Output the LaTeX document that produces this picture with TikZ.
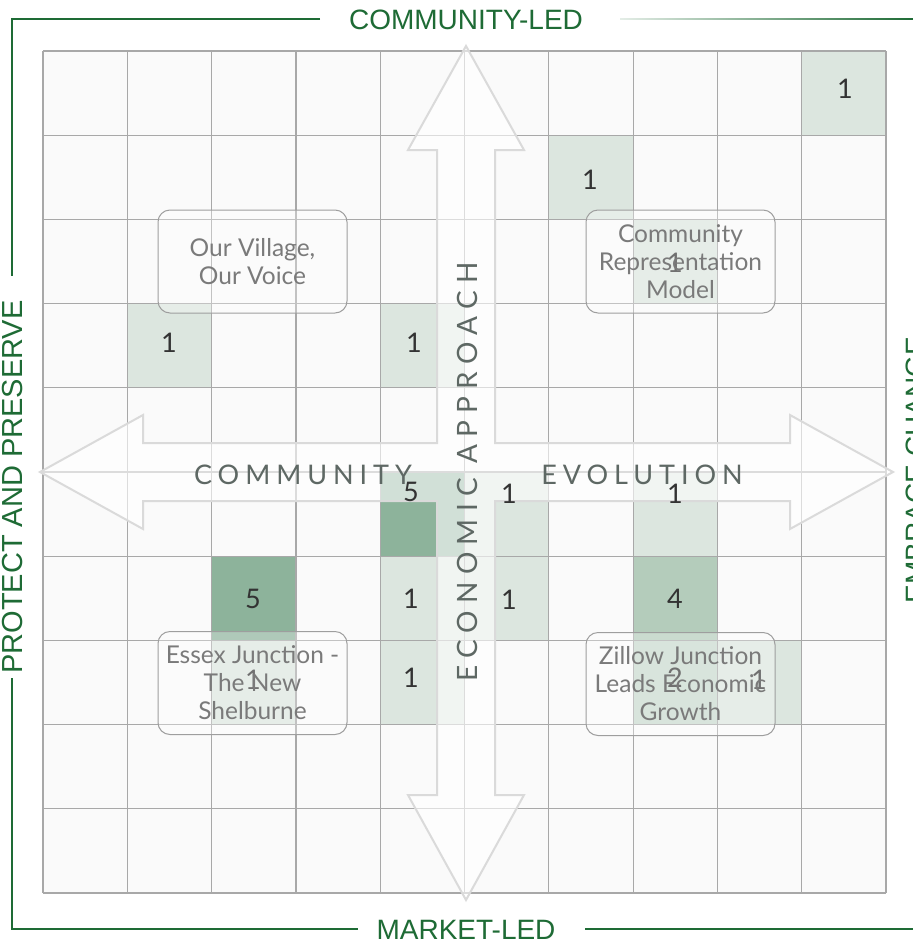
\documentclass[tikz,border=0pt]{standalone}
\usepackage{fontspec}
\setmainfont{Lato}
\newfontfamily\titlefamily{Liberation Sans}
\newfontfamily\spacedfamily[LetterSpace=22]{Lato}
\newfontfamily\widespacedfamily[LetterSpace=26]{Lato}
\definecolor{framec}{HTML}{1E6B35}
\definecolor{cellbg}{HTML}{FAFAFA}
\definecolor{gridc}{HTML}{A8A8A8}
\definecolor{cA}{HTML}{DCE6DF}
\definecolor{cB}{HTML}{C8D9CD}
\definecolor{cD}{HTML}{B4CCBB}
\definecolor{cE}{HTML}{8DB39B}
\definecolor{arrowc}{HTML}{DADADA}
\definecolor{numc}{HTML}{333333}
\definecolor{boxtext}{HTML}{7A7A7A}
\definecolor{boxline}{HTML}{9E9E9E}
\definecolor{axisc}{HTML}{5E6864}
\tikzset{
  titletext/.style={text=framec, font=\titlefamily\fontsize{28}{32}\selectfont, inner sep=0pt},
  frameline/.style={draw=framec, line width=1.5pt},
  numtext/.style={text=numc, font=\fontsize{27}{30}\selectfont, inner sep=0pt},
  axistext/.style={text=axisc, font=\spacedfamily\fontsize{27}{30}\selectfont, inner sep=0pt},
  labelbox/.style={draw=boxline, line width=1pt, rounded corners=12pt, fill=white, fill opacity=0.3, text opacity=1,
    text=boxtext, minimum width=189pt, minimum height=103pt, align=center, inner sep=2pt,
    font=\fontsize{24.5}{28}\selectfont},
  bigarrow/.style={draw=arrowc, line width=2pt, fill=white, fill opacity=0.6, line join=miter}
}
\begin{document}
\begin{tikzpicture}[x=1pt,y=-1pt]
\useasboundingbox (0,0) rectangle (913,943);
\fill[white] (0,0) rectangle (913,943);
% grid background
\fill[cellbg] (43,51) rectangle (886,893);
% shaded cells
\foreach \c/\r/\col in {9/0/cA, 6/1/cA, 7/2/cA, 1/3/cA, 4/3/cA, 4/5/cE, 5/5/cA, 7/5/cA, 2/6/cE, 4/6/cA, 5/6/cA, 7/6/cD, 2/7/cA, 4/7/cA, 7/7/cB, 8/7/cA}
  \fill[\col] ({43+\c*84.3},{51+\r*84.2}) rectangle ++(84.3,84.2);
% grid lines
\foreach \i in {0,...,10}{
  \draw[gridc, line width=1.2pt] ({43+\i*84.3},51) -- ({43+\i*84.3},893);
  \draw[gridc, line width=1.2pt] (43,{51+\i*84.2}) -- (886,{51+\i*84.2});
}
% cross arrow
\draw[bigarrow] (466,46) -- (524,150) -- (495,150) -- (495,443) -- (790,443) -- (790,415) -- (893,472)
  -- (790,529) -- (790,501) -- (495,501) -- (495,795) -- (524,795) -- (466,900) -- (408,795)
  -- (437,795) -- (437,501) -- (143,501) -- (143,529) -- (40,472) -- (143,415) -- (143,443)
  -- (437,443) -- (437,150) -- (408,150) -- cycle;
% numbers
\node[numtext] (n1) at (845,89) {1};
\node[numtext] (n2) at (590,180) {1};
\node[numtext] (n3) at (675,263) {1};
\node[numtext] (n4) at (169,343) {1};
\node[numtext] (n5) at (414,343) {1};
\node[numtext] (n6) at (411,492) {5};
\node[numtext] (n7) at (509,494) {1};
\node[numtext] (n8) at (675,494) {1};
\node[numtext] (n9) at (253,599) {5};
\node[numtext] (n10) at (411,599) {1};
\node[numtext] (n11) at (509,600) {1};
\node[numtext] (n12) at (675,599) {4};
\node[numtext] (n13) at (253,680) {1};
\node[numtext] (n14) at (411,678) {1};
\node[numtext] (n15) at (675,678) {2};
\node[numtext] (n16) at (759,680) {1};
% axis labels
\node[axistext] (community) at (303,475) {COMMUNITY};
\node[axistext] (evolution) at (642,475) {EVOLUTION};
\node[axistext, font=\widespacedfamily\fontsize{28}{30}\selectfont, rotate=90] (economic) at (467,472) {ECONOMIC APPROACH};
% scenario boxes
\node[labelbox] (village) at (252.5,261.5) {Our Village,\\Our Voice};
\node[labelbox] (crm) at (680.5,261.5) {Community\\Representation\\Model};
\node[labelbox] (essex) at (252.5,683) {Essex Junction -\\The New\\Shelburne};
\node[labelbox] (zillow) at (680.5,684) {Zillow Junction\\Leads Economic\\Growth};
% frame titles
\node[titletext] (top) at (466,20) {COMMUNITY-LED};
\node[titletext] (bottom) at (466,930) {MARKET-LED};
\node[titletext, font=\titlefamily\fontsize{29}{32}\selectfont, rotate=90] (left) at (13,487) {PROTECT AND PRESERVE};
\node[titletext, rotate=90, anchor=north] (right) at (906,470) {EMBRACE CHANGE};
% frame lines
\coordinate (tl) at (12,19);
\coordinate (bl) at (12,929);
\coordinate (br) at (913,929);
\draw[frameline] (320,19) -- (tl) -- (12,276);
\draw[frameline] (12,678) -- (bl) -- (358,929);
\draw[frameline] (585,929) -- (br);
\shade[left color=framec!12, right color=framec] (620,18.3) rectangle (913,19.7);
\end{tikzpicture}
\end{document}
